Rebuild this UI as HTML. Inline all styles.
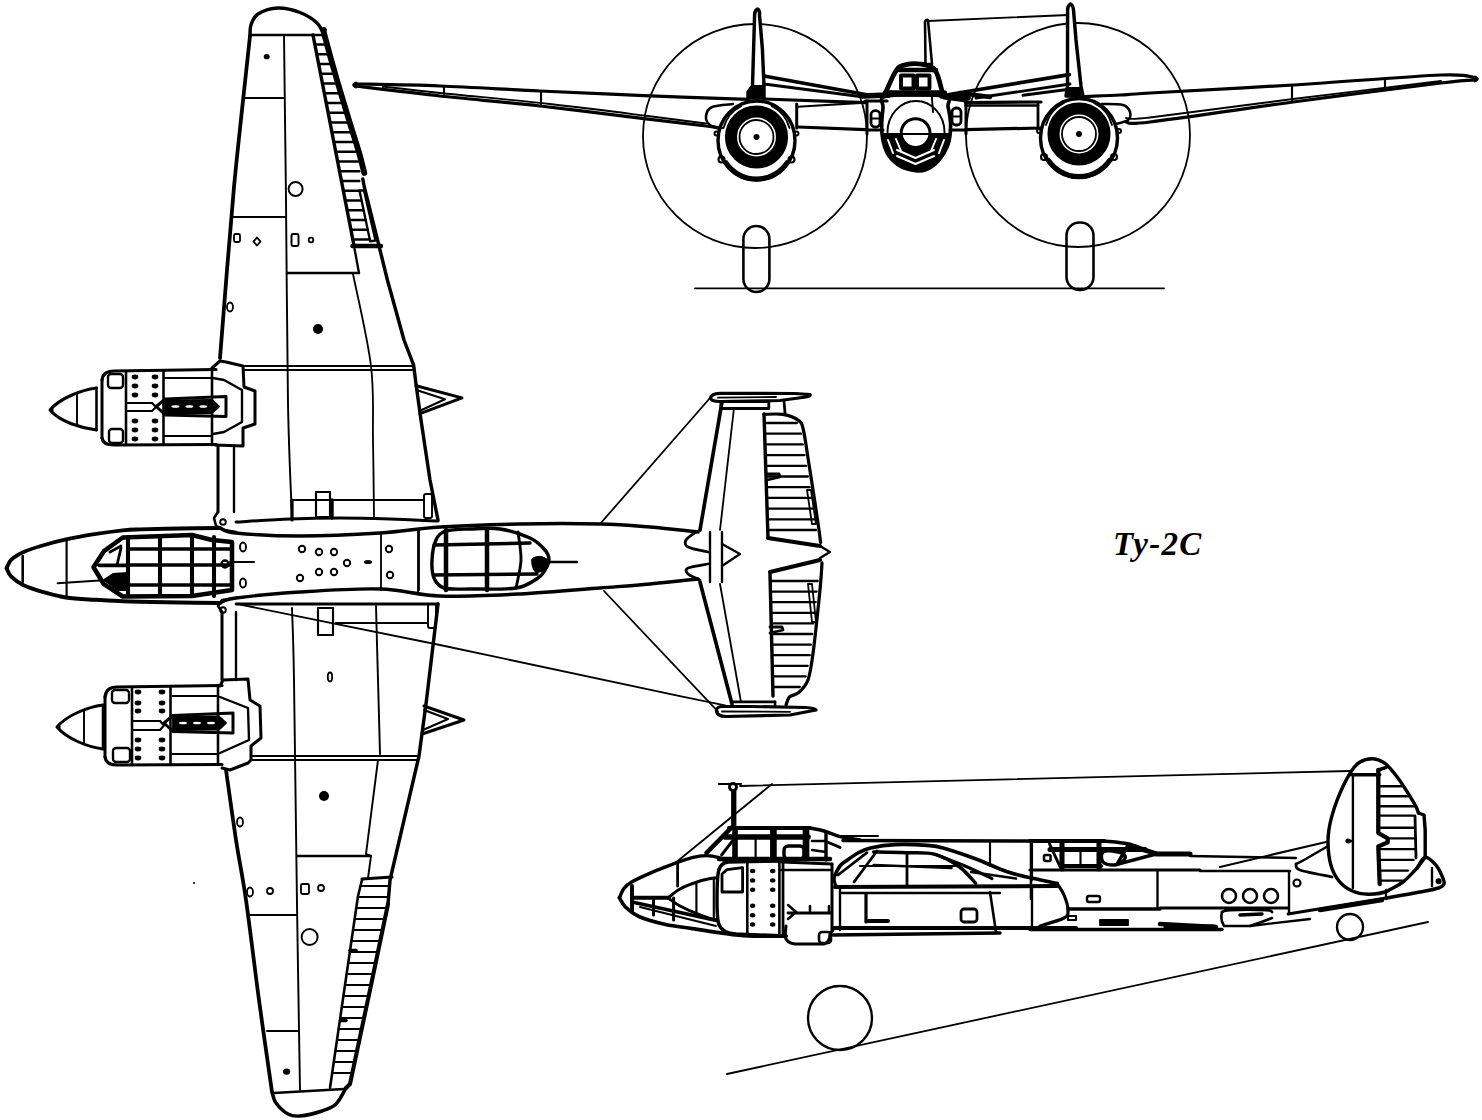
<!DOCTYPE html>
<html><head><meta charset="utf-8"><style>
html,body{margin:0;padding:0;background:#fff;}
body{width:1482px;height:1120px;overflow:hidden;position:relative;}
svg{position:absolute;left:0;top:0;}
.t{position:absolute;font-family:"Liberation Serif",serif;font-weight:bold;font-style:italic;color:#000;white-space:nowrap;}
</style></head><body>
<svg width="1482" height="1120" viewBox="0 0 1482 1120" stroke="#000" stroke-linejoin="round" fill="none">
<path d="M250,36 C250.2,34.2 249.7,28.7 251,25 C252.3,21.3 253.5,16.8 258,14 C262.5,11.2 271,8.2 278,8 C285,7.8 293.5,10 300,12.5 C306.5,15 313,19.2 317,23 C321,26.8 322.8,33 324,35" stroke-width="3.4400000000000004" fill="none" stroke-linecap="round"/>
<path d="M250,35 L324,35" stroke-width="2.5760000000000005" fill="none" stroke-linecap="round"/>
<path d="M250,36 C248.7,48.3 244.7,84.8 242,110 C239.3,135.2 236.5,160.3 234,187 C231.5,213.7 229.3,241.5 227,270 C224.7,298.5 221.2,343.3 220,358" stroke-width="3.7640000000000002" fill="none" stroke-linecap="round"/>
<path d="M324,30 C324.1,31 322.7,28.2 324.8,36.2 C326.9,44.2 332.1,63.3 336.4,78 C340.6,92.7 346.4,111.6 350.3,124.4 C354.2,137.2 357.3,146.5 359.6,154.6 C361.9,162.7 363.5,169.9 364.3,173" stroke-width="5.816000000000001" fill="none" stroke-linecap="round"/>
<path d="M362.8,179 L364.3,187 L378.2,242.7 L387.4,280 L404,340 L413.6,365 L416,384 L421,420 L430,480 L438,520" stroke-width="3.4400000000000004" fill="none" stroke-linecap="round"/>
<path d="M313,35 L353.7,244" stroke-width="3.4400000000000004" fill="none" stroke-linecap="round"/>
<path d="M352.5,246 L381,246" stroke-width="4.5200000000000005" fill="none" stroke-linecap="round"/>
<path d="M359.5,190.5 L364,190.5 L375.5,240.5 L370.2,241.4 Z" stroke-width="2.3600000000000003" fill="none" stroke-linecap="round"/>
<path d="M314.9,44.5 L324.6,44.5" stroke-width="2.3600000000000003" fill="none" stroke-linecap="round"/>
<path d="M316.7,54.2 L327.3,54.2" stroke-width="2.3600000000000003" fill="none" stroke-linecap="round"/>
<path d="M318.6,64 L330,64" stroke-width="2.3600000000000003" fill="none" stroke-linecap="round"/>
<path d="M320.5,73.8 L332.7,73.8" stroke-width="2.3600000000000003" fill="none" stroke-linecap="round"/>
<path d="M322.4,83.5 L335.5,83.5" stroke-width="2.3600000000000003" fill="none" stroke-linecap="round"/>
<path d="M324.3,93.2 L338.5,93.2" stroke-width="2.3600000000000003" fill="none" stroke-linecap="round"/>
<path d="M326.2,103 L341.4,103" stroke-width="2.3600000000000003" fill="none" stroke-linecap="round"/>
<path d="M328.1,112.8 L344.3,112.8" stroke-width="2.3600000000000003" fill="none" stroke-linecap="round"/>
<path d="M330,122.5 L347.2,122.5" stroke-width="2.3600000000000003" fill="none" stroke-linecap="round"/>
<path d="M331.9,132.2 L350.2,132.2" stroke-width="2.3600000000000003" fill="none" stroke-linecap="round"/>
<path d="M333.8,142 L353.2,142" stroke-width="2.3600000000000003" fill="none" stroke-linecap="round"/>
<path d="M335.7,151.8 L356.2,151.8" stroke-width="2.3600000000000003" fill="none" stroke-linecap="round"/>
<path d="M337.6,161.5 L358,161.5" stroke-width="2.3600000000000003" fill="none" stroke-linecap="round"/>
<path d="M339.5,171.2 L359.3,171.2" stroke-width="2.3600000000000003" fill="none" stroke-linecap="round"/>
<path d="M341.4,181 L359.3,181" stroke-width="2.3600000000000003" fill="none" stroke-linecap="round"/>
<path d="M343.3,190.8 L359.1,190.8" stroke-width="2.3600000000000003" fill="none" stroke-linecap="round"/>
<path d="M345.2,200.5 L361.2,200.5" stroke-width="2.3600000000000003" fill="none" stroke-linecap="round"/>
<path d="M347.1,210.2 L363.4,210.2" stroke-width="2.3600000000000003" fill="none" stroke-linecap="round"/>
<path d="M349,220 L365.6,220" stroke-width="2.3600000000000003" fill="none" stroke-linecap="round"/>
<path d="M350.9,229.8 L367.8,229.8" stroke-width="2.3600000000000003" fill="none" stroke-linecap="round"/>
<path d="M352.8,239.5 L370,239.5" stroke-width="2.3600000000000003" fill="none" stroke-linecap="round"/>
<path d="M354,246 L359,273" stroke-width="2.3600000000000003" fill="none" stroke-linecap="round"/>
<path d="M287,273 L359,273" stroke-width="2.3600000000000003" fill="none" stroke-linecap="round"/>
<path d="M353,274 C356,289.3 367.7,338.3 371,366 C374.3,393.7 372.5,414.8 373,440 C373.5,465.2 373.8,504.2 374,517" stroke-width="1.82" fill="none" stroke-linecap="round"/>
<path d="M284,35 C284.3,62.5 285.3,138.5 286,200 C286.7,261.5 287,351 288,404 C289,457 291.3,499 292,518" stroke-width="1.9280000000000002" fill="none" stroke-linecap="round"/>
<path d="M244,98 L284,98" stroke-width="1.9280000000000002" fill="none" stroke-linecap="round"/>
<path d="M231,217 L285,217" stroke-width="2.144" fill="none" stroke-linecap="round"/>
<path d="M244,366 L412,366" stroke-width="2.144" fill="none" stroke-linecap="round"/>
<path d="M244,370 L412,370" stroke-width="2.144" fill="none" stroke-linecap="round"/>
<path d="M416,385.7 L462,397.9 L420,413.6" stroke-width="3.0080000000000005" fill="none" stroke-linecap="round"/>
<path d="M416.4,390 L445,399.3 L420,410.7" stroke-width="2.144" fill="none" stroke-linecap="round"/>
<circle cx="295.6" cy="189" r="7" stroke-width="1.9280000000000002" fill="none"/>
<ellipse cx="266.7" cy="56.7" rx="3" ry="2.6" stroke="none" fill="#000"/>
<rect x="234" y="234" width="6" height="8" rx="1.5" stroke-width="1.82" fill="none"/>
<path d="M257,237.5 L260.5,241.6 L257,245.5 L253.5,241.6 Z" stroke-width="1.82" fill="none" stroke-linecap="round"/>
<rect x="291.5" y="234" width="7" height="12" rx="1.5" stroke-width="1.9280000000000002" fill="none"/>
<circle cx="311" cy="240" r="2.3" stroke-width="1.8" fill="none"/>
<ellipse cx="230" cy="307" rx="3" ry="4.5" stroke-width="1.82" fill="none"/>
<ellipse cx="318" cy="329" rx="5" ry="5" stroke="none" fill="#000"/>
<path d="M218,446 L218,512" stroke-width="3.0080000000000005" fill="none" stroke-linecap="round"/>
<path d="M234,446 L234,512" stroke-width="2.3600000000000003" fill="none" stroke-linecap="round"/>
<path d="M292,500 L424,500" stroke-width="2.144" fill="none" stroke-linecap="round"/>
<rect x="316" y="492" width="14" height="25" rx="0" stroke-width="2.144" fill="none"/>
<path d="M332,500 L332,518" stroke-width="3.4400000000000004" fill="none" stroke-linecap="round"/>
<path d="M292,500 L292,520" stroke-width="3.224" fill="none" stroke-linecap="round"/>
<rect x="424" y="494" width="8" height="24" rx="2" stroke-width="1.9280000000000002" fill="none"/>
<path d="M236,522 C245,521.5 272.7,519.7 290,519 C307.3,518.3 323.3,518 340,518 C356.7,518 373.7,518.5 390,519 C406.3,519.5 430,520.7 438,521" stroke-width="3.0080000000000005" fill="none" stroke-linecap="round"/>
<path d="M218,512 L214,518 L216,526 L224,530 L236,532" stroke-width="2.5760000000000005" fill="none" stroke-linecap="round"/>
<circle cx="223" cy="522" r="2.8" stroke-width="1.9280000000000002" fill="none"/>
<path d="M252,756 L418,756" stroke-width="2.144" fill="none" stroke-linecap="round"/>
<path d="M252,760 L418,760" stroke-width="2.144" fill="none" stroke-linecap="round"/>
<path d="M226,770 C227.7,781.7 232.7,818.3 236,840 C239.3,861.7 242.2,873.3 246,900 C249.8,926.7 254.7,968 259,1000 C263.3,1032 269.8,1076.7 272,1092" stroke-width="3.7640000000000002" fill="none" stroke-linecap="round"/>
<path d="M272,1092 C272.7,1093.8 273.3,1099.3 276,1103 C278.7,1106.7 284,1111.8 288,1114 C292,1116.2 294.3,1116.5 300,1116 C305.7,1115.5 316,1113 322,1111 C328,1109 332,1107.8 336,1104 C340,1100.2 344.3,1090.7 346,1088" stroke-width="3.4400000000000004" fill="none" stroke-linecap="round"/>
<path d="M274,1093 L344,1089" stroke-width="2.5760000000000005" fill="none" stroke-linecap="round"/>
<path d="M292,608 C292.3,620 293.2,630.7 294,680 C294.8,729.3 296,835.7 297,904 C298,972.3 299.5,1059 300,1090" stroke-width="1.9280000000000002" fill="none" stroke-linecap="round"/>
<path d="M438,604 L426,704 L419,756 L390,880 L388,904" stroke-width="3.4400000000000004" fill="none" stroke-linecap="round"/>
<path d="M388,904 L370,990 L350,1084 L346,1088" stroke-width="4.088" fill="none" stroke-linecap="round"/>
<path d="M378,760 L366,854 L371,856 L368,878" stroke-width="1.9280000000000002" fill="none" stroke-linecap="round"/>
<path d="M297,856 L371,856" stroke-width="2.3600000000000003" fill="none" stroke-linecap="round"/>
<path d="M362,879 L392,877" stroke-width="3.0080000000000005" fill="none" stroke-linecap="round"/>
<path d="M362,880 L358,896 L330,1088" stroke-width="2.5760000000000005" fill="none" stroke-linecap="round"/>
<path d="M360.5,886 L387.5,886" stroke-width="2.036" fill="none" stroke-linecap="round"/>
<path d="M357.9,897 L386.6,897" stroke-width="2.036" fill="none" stroke-linecap="round"/>
<path d="M356.2,908 L385.2,908" stroke-width="2.036" fill="none" stroke-linecap="round"/>
<path d="M354.6,919 L382.9,919" stroke-width="2.036" fill="none" stroke-linecap="round"/>
<path d="M353,930 L380.6,930" stroke-width="2.036" fill="none" stroke-linecap="round"/>
<path d="M351.4,941 L378.3,941" stroke-width="2.036" fill="none" stroke-linecap="round"/>
<path d="M349.8,952 L376,952" stroke-width="2.036" fill="none" stroke-linecap="round"/>
<path d="M348.2,963 L373.7,963" stroke-width="2.036" fill="none" stroke-linecap="round"/>
<path d="M346.6,974 L371.3,974" stroke-width="2.036" fill="none" stroke-linecap="round"/>
<path d="M345,985 L369,985" stroke-width="2.036" fill="none" stroke-linecap="round"/>
<path d="M343.4,996 L366.7,996" stroke-width="2.036" fill="none" stroke-linecap="round"/>
<path d="M341.8,1007 L364.4,1007" stroke-width="2.036" fill="none" stroke-linecap="round"/>
<path d="M340.2,1018 L362,1018" stroke-width="2.036" fill="none" stroke-linecap="round"/>
<path d="M338.6,1029 L359.7,1029" stroke-width="2.036" fill="none" stroke-linecap="round"/>
<path d="M337,1040 L357.4,1040" stroke-width="2.036" fill="none" stroke-linecap="round"/>
<path d="M335.4,1051 L355,1051" stroke-width="2.036" fill="none" stroke-linecap="round"/>
<path d="M333.8,1062 L352.7,1062" stroke-width="2.036" fill="none" stroke-linecap="round"/>
<path d="M332.2,1073 L350.3,1073" stroke-width="2.036" fill="none" stroke-linecap="round"/>
<path d="M249,915 L297,915" stroke-width="1.9280000000000002" fill="none" stroke-linecap="round"/>
<path d="M267,1031 L298,1031" stroke-width="1.9280000000000002" fill="none" stroke-linecap="round"/>
<circle cx="309.6" cy="937" r="8" stroke-width="1.9280000000000002" fill="none"/>
<ellipse cx="286.6" cy="1071.6" rx="3.6" ry="3.2" stroke="none" fill="#000"/>
<ellipse cx="324" cy="796" rx="5" ry="5" stroke="none" fill="#000"/>
<ellipse cx="240" cy="822" rx="3" ry="4.5" stroke-width="1.82" fill="none"/>
<ellipse cx="250" cy="892" rx="3" ry="4.5" stroke-width="1.82" fill="none"/>
<circle cx="270" cy="891" r="3" stroke-width="1.8" fill="none"/>
<rect x="301" y="884" width="8" height="10" rx="1.5" stroke-width="1.82" fill="none"/>
<circle cx="321" cy="888" r="3" stroke-width="1.8" fill="none"/>
<path d="M424,706 L464,720 L422,734" stroke-width="3.0080000000000005" fill="none" stroke-linecap="round"/>
<path d="M424,710 L448,719 L423,730" stroke-width="2.144" fill="none" stroke-linecap="round"/>
<ellipse cx="194" cy="883" rx="1" ry="1" stroke="none" fill="#000"/>
<path d="M222,612 L222,680" stroke-width="3.0080000000000005" fill="none" stroke-linecap="round"/>
<path d="M236,612 L236,680" stroke-width="2.3600000000000003" fill="none" stroke-linecap="round"/>
<path d="M336,623 L428,623" stroke-width="1.9280000000000002" fill="none" stroke-linecap="round"/>
<rect x="318" y="608" width="15" height="27" rx="0" stroke-width="2.144" fill="none"/>
<path d="M376,606 C376.3,618.3 377.3,655.3 378,680 C378.7,704.7 379.7,741.7 380,754" stroke-width="1.9280000000000002" fill="none" stroke-linecap="round"/>
<rect x="428" y="604" width="8" height="24" rx="2" stroke-width="1.9280000000000002" fill="none"/>
<ellipse cx="330" cy="677" rx="2.2" ry="4.5" stroke-width="1.82" fill="none"/>
<path d="M236,604 C246.7,604 276,604 300,604 C324,604 357,604 380,604 C403,604 428.3,604 438,604" stroke-width="2.7920000000000003" fill="none" stroke-linecap="round"/>
<path d="M222,612 L218,606 L222,600 L236,598" stroke-width="2.5760000000000005" fill="none" stroke-linecap="round"/>
<circle cx="223" cy="610" r="2.8" stroke-width="1.9280000000000002" fill="none"/>
<path d="M6.6,568.2 C7.4,566.8 8.5,562.4 11.3,559.7 C14.1,557 18.4,554.4 23.6,552 C28.8,549.6 35.4,547.6 42.5,545.5 C49.6,543.4 57.3,541.3 66,539.4 C74.7,537.5 85,535.7 94.5,534.2 C104,532.7 115.2,531.2 122.8,530.4 C130.4,529.6 130.5,529.7 140,529.4 C149.5,529.1 166.7,528.7 180,528.5 C193.3,528.3 213.3,528.1 220,528" stroke-width="3.8720000000000003" fill="none" stroke-linecap="round"/>
<path d="M6.6,568.2 C7.4,569.6 8.5,573.9 11.3,576.7 C14.1,579.5 18.4,582.7 23.6,585.2 C28.8,587.7 35.4,589.8 42.5,591.8 C49.6,593.8 57.3,596.2 66,597.5 C74.7,598.8 85,599.2 94.5,599.8 C104,600.4 115.2,600.9 122.8,601.2 C130.4,601.5 130.5,601.5 140,601.7 C149.5,601.9 166.7,602.3 180,602.5 C193.3,602.7 213.3,602.9 220,603" stroke-width="3.8720000000000003" fill="none" stroke-linecap="round"/>
<path d="M220,528 C222.7,528.8 222.7,531.7 236,533 C249.3,534.3 276,536 300,536 C324,536 356.7,534.5 380,533 C403.3,531.5 416.7,528.5 440,527 C463.3,525.5 493.3,524.5 520,524 C546.7,523.5 578.3,523.5 600,524 C621.7,524.5 633.7,525.7 650,527 C666.3,528.3 690,531.2 698,532" stroke-width="3.4400000000000004" fill="none" stroke-linecap="round"/>
<path d="M220,603 C222.7,602.2 222.7,599.8 236,598 C249.3,596.2 276,593.5 300,592 C324,590.5 356.7,588.3 380,589 C403.3,589.7 416.7,595.2 440,596 C463.3,596.8 493.3,595.3 520,594 C546.7,592.7 578.3,589.7 600,588 C621.7,586.3 633.7,585.5 650,584 C666.3,582.5 690,579.8 698,579" stroke-width="3.4400000000000004" fill="none" stroke-linecap="round"/>
<path d="M22.7,556 L22.7,582" stroke-width="2.5760000000000005" fill="none" stroke-linecap="round"/>
<path d="M66.6,541 L66.6,596" stroke-width="2.144" fill="none" stroke-linecap="round"/>
<path d="M57.6,583.3 L99.2,580.5" stroke-width="1.9280000000000002" fill="none" stroke-linecap="round"/>
<path d="M93.5,567.2 L103.9,551.2 L122.8,537.5 L192,535 L212,540 L232,542 L232,590 L212,593 L192,596 L122.8,596.5 L103.9,584.2 L93.5,567.2 Z" stroke-width="4.5200000000000005" fill="none" stroke-linecap="round"/>
<path d="M128,537 L128,596" stroke-width="4.088" fill="none" stroke-linecap="round"/>
<path d="M160,537 L160,596" stroke-width="4.088" fill="none" stroke-linecap="round"/>
<path d="M192,537 L192,596" stroke-width="4.088" fill="none" stroke-linecap="round"/>
<path d="M214,537 L214,596" stroke-width="4.088" fill="none" stroke-linecap="round"/>
<path d="M128,549 L232,549" stroke-width="3.6560000000000006" fill="none" stroke-linecap="round"/>
<path d="M128,565 L232,565" stroke-width="3.6560000000000006" fill="none" stroke-linecap="round"/>
<path d="M128,585 L232,585" stroke-width="3.6560000000000006" fill="none" stroke-linecap="round"/>
<path d="M99,565.3 L128,565.3" stroke-width="3.6560000000000006" fill="none" stroke-linecap="round"/>
<path d="M110,552 L121,546" stroke-width="2.7920000000000003" fill="none" stroke-linecap="round"/>
<path d="M117,565 L121,548" stroke-width="2.7920000000000003" fill="none" stroke-linecap="round"/>
<path d="M104,580 L113,574 L127,573 L127,590 L118,590 Z" stroke-width="1.8" fill="#000" stroke-linecap="round"/>
<ellipse cx="243" cy="547" rx="3" ry="4.5" stroke-width="1.9280000000000002" fill="none"/>
<ellipse cx="243" cy="583" rx="3" ry="4.5" stroke-width="1.9280000000000002" fill="none"/>
<circle cx="225" cy="564" r="3.5" stroke-width="2.3600000000000003" fill="none"/>
<path d="M230,562 L254,562" stroke-width="1.9280000000000002" fill="none" stroke-linecap="round"/>
<circle cx="302" cy="549" r="3.2" stroke-width="1.9280000000000002" fill="none"/>
<circle cx="319" cy="552" r="3.2" stroke-width="1.9280000000000002" fill="none"/>
<circle cx="334" cy="552" r="3.2" stroke-width="1.9280000000000002" fill="none"/>
<circle cx="347" cy="563" r="3.2" stroke-width="1.9280000000000002" fill="none"/>
<circle cx="300" cy="578" r="3.2" stroke-width="1.9280000000000002" fill="none"/>
<circle cx="319" cy="572" r="3.2" stroke-width="1.9280000000000002" fill="none"/>
<circle cx="334" cy="572" r="3.2" stroke-width="1.9280000000000002" fill="none"/>
<circle cx="389" cy="549" r="3.2" stroke-width="1.9280000000000002" fill="none"/>
<circle cx="390" cy="575" r="3.2" stroke-width="1.9280000000000002" fill="none"/>
<ellipse cx="368" cy="562" rx="4" ry="2" stroke="none" fill="#000"/>
<path d="M381,533 L381,590" stroke-width="1.82" fill="none" stroke-linecap="round"/>
<path d="M418,530 L418,592" stroke-width="1.82" fill="none" stroke-linecap="round"/>
<path d="M432,560 C432.3,553.7 433.7,544.8 436,540 C438.3,535.2 440.3,532.8 446,531 C451.7,529.2 461,529.3 470,529 C479,528.7 490,527.5 500,529 C510,530.5 522.5,534.5 530,538 C537.5,541.5 541.8,546.3 545,550 C548.2,553.7 549,556.7 549,560 C549,563.3 546.8,567 545,570 C543.2,573 542.8,575 538,578 C533.2,581 527.3,586.2 516,588 C504.7,589.8 482,589 470,589 C458,589 450,589.8 444,588 C438,586.2 436,582.7 434,578 C432,573.3 431.7,566.3 432,560 Z" stroke-width="3.4400000000000004" fill="none" stroke-linecap="round"/>
<path d="M446,530 L446,590" stroke-width="4.5200000000000005" fill="none" stroke-linecap="round"/>
<path d="M487,529 L487,590" stroke-width="4.5200000000000005" fill="none" stroke-linecap="round"/>
<path d="M518,532 C518.5,536.7 521.3,550.7 521,560 C520.7,569.3 516.8,583.3 516,588" stroke-width="2.9000000000000004" fill="none" stroke-linecap="round"/>
<path d="M434,545 L530,543" stroke-width="3.4400000000000004" fill="none" stroke-linecap="round"/>
<path d="M434,575 L537,574" stroke-width="3.4400000000000004" fill="none" stroke-linecap="round"/>
<path d="M532,560 Q534,556 542,557 L548,560 L548,566 Q544,572 536,572 Q532,568 532,560 Z" stroke-width="1.8" fill="#000" stroke-linecap="round"/>
<path d="M548,562 L577,562" stroke-width="2.3600000000000003" fill="none" stroke-linecap="round"/>
<path d="M419,529 L419,590" stroke-width="1.82" fill="none" stroke-linecap="round"/>
<path d="M600,524 L710,398" stroke-width="1.8" fill="none" stroke-linecap="round"/>
<path d="M604,591 L717.8,711.4" stroke-width="1.8" fill="none" stroke-linecap="round"/>
<path d="M240,604.5 L440,645 L680,696.2 L725,705.4" stroke-width="1.8" fill="none" stroke-linecap="round"/>
<path d="M710.5,398 Q711,393.5 720,393.3 L795,393.5 L810,394.5 Q811,396 806,397 L780,400.5 L720,401.5 Q711,401.5 710.5,398 Z" stroke-width="3.224" fill="none" stroke-linecap="round"/>
<path d="M718,397.6 L776,397" stroke-width="1.8" fill="none" stroke-linecap="round"/>
<rect x="721" y="401.5" width="47.8" height="7" rx="0" stroke-width="2.7920000000000003" fill="none"/>
<path d="M722,402 L700,530" stroke-width="3.6560000000000006" fill="none" stroke-linecap="round"/>
<path d="M734,408 L720,530" stroke-width="1.82" fill="none" stroke-linecap="round"/>
<path d="M764,414 L768,538" stroke-width="3.4400000000000004" fill="none" stroke-linecap="round"/>
<path d="M764,414.4 C767.2,414.4 777.2,413.4 783,414.4 C788.8,415.4 795.4,418 798.8,420.6 C802.1,423.2 801.9,423.8 803.4,430 C804.9,436.2 806.2,446.5 808,458 C809.8,469.5 812.6,486.8 814.4,498.8 C816.2,510.8 818,522.7 819,530 C820,537.3 820.3,540.4 820.6,542.5" stroke-width="3.224" fill="none" stroke-linecap="round"/>
<path d="M764.3,423 L796.9,423" stroke-width="2.2520000000000002" fill="none" stroke-linecap="round"/>
<path d="M764.6,433.7 L801,433.7" stroke-width="2.2520000000000002" fill="none" stroke-linecap="round"/>
<path d="M765,444.4 L802.8,444.4" stroke-width="2.2520000000000002" fill="none" stroke-linecap="round"/>
<path d="M765.3,455.1 L804.5,455.1" stroke-width="2.2520000000000002" fill="none" stroke-linecap="round"/>
<path d="M765.7,465.8 L806.2,465.8" stroke-width="2.2520000000000002" fill="none" stroke-linecap="round"/>
<path d="M766,476.5 L807.9,476.5" stroke-width="2.2520000000000002" fill="none" stroke-linecap="round"/>
<path d="M766.4,487.2 L809.6,487.2" stroke-width="2.2520000000000002" fill="none" stroke-linecap="round"/>
<path d="M766.7,497.9 L811.3,497.9" stroke-width="2.2520000000000002" fill="none" stroke-linecap="round"/>
<path d="M767.1,508.6 L812.8,508.6" stroke-width="2.2520000000000002" fill="none" stroke-linecap="round"/>
<path d="M767.4,519.3 L814.4,519.3" stroke-width="2.2520000000000002" fill="none" stroke-linecap="round"/>
<path d="M767.7,530 L816,530" stroke-width="2.2520000000000002" fill="none" stroke-linecap="round"/>
<path d="M767,474 L779,474 L780,477 L767,480" stroke-width="2.7920000000000003" fill="none" stroke-linecap="round"/>
<path d="M807,490 L811,490 L816,524 L812,524 Z" stroke-width="1.82" fill="none" stroke-linecap="round"/>
<path d="M768,538 L820,546" stroke-width="4.088" fill="none" stroke-linecap="round"/>
<path d="M820,546 L830,552 L820,558" stroke-width="2.5760000000000005" fill="none" stroke-linecap="round"/>
<path d="M820,560 L770,572" stroke-width="4.088" fill="none" stroke-linecap="round"/>
<path d="M785,413 L784,401" stroke-width="2.7920000000000003" fill="none" stroke-linecap="round"/>
<path d="M716.5,711 Q717,716.5 726,716.5 L790,715 L816,710 Q814,708 806,707.5 L750,706.5 L722,706.5 Q716,707 716.5,711 Z" stroke-width="3.224" fill="none" stroke-linecap="round"/>
<path d="M722,711.5 L790,711.8" stroke-width="1.8" fill="none" stroke-linecap="round"/>
<path d="M700,582 L732,704" stroke-width="3.6560000000000006" fill="none" stroke-linecap="round"/>
<path d="M720,584 L741,702" stroke-width="1.82" fill="none" stroke-linecap="round"/>
<path d="M770,574 L773,696" stroke-width="3.4400000000000004" fill="none" stroke-linecap="round"/>
<path d="M822,562.8 C821.8,566.2 821.4,574.5 820.6,583 C819.9,591.5 818.8,602 817.5,614 C816.2,626 814.4,644 812.8,655 C811.2,666 810.3,673.8 808,680 C805.7,686.2 801.9,689.7 798.8,692.5 C795.6,695.3 791.5,694.9 789.4,697 C787.3,699.1 786.6,703.7 786,705" stroke-width="3.224" fill="none" stroke-linecap="round"/>
<path d="M770.2,581 L817.7,581" stroke-width="2.2520000000000002" fill="none" stroke-linecap="round"/>
<path d="M770.4,591.6 L816.7,591.6" stroke-width="2.2520000000000002" fill="none" stroke-linecap="round"/>
<path d="M770.7,602.2 L815.7,602.2" stroke-width="2.2520000000000002" fill="none" stroke-linecap="round"/>
<path d="M771,612.8 L814.6,612.8" stroke-width="2.2520000000000002" fill="none" stroke-linecap="round"/>
<path d="M771.2,623.4 L813.4,623.4" stroke-width="2.2520000000000002" fill="none" stroke-linecap="round"/>
<path d="M771.5,634 L812.2,634" stroke-width="2.2520000000000002" fill="none" stroke-linecap="round"/>
<path d="M771.7,644.6 L811,644.6" stroke-width="2.2520000000000002" fill="none" stroke-linecap="round"/>
<path d="M772,655.2 L809.8,655.2" stroke-width="2.2520000000000002" fill="none" stroke-linecap="round"/>
<path d="M772.3,665.8 L807.7,665.8" stroke-width="2.2520000000000002" fill="none" stroke-linecap="round"/>
<path d="M772.5,676.4 L805.7,676.4" stroke-width="2.2520000000000002" fill="none" stroke-linecap="round"/>
<path d="M772.8,687 L799.8,687" stroke-width="2.2520000000000002" fill="none" stroke-linecap="round"/>
<path d="M808,584 L812,584 L816,622 L812,622 Z" stroke-width="1.82" fill="none" stroke-linecap="round"/>
<path d="M733,701.8 L775,701.8" stroke-width="2.7920000000000003" fill="none" stroke-linecap="round"/>
<path d="M775,701.8 L775,706" stroke-width="2.5760000000000005" fill="none" stroke-linecap="round"/>
<path d="M696,532 C694.3,533.3 687.3,537.5 686,540 C684.7,542.5 684.3,545 688,547 C691.7,549 704.7,551.2 708,552" stroke-width="2.7920000000000003" fill="none" stroke-linecap="round"/>
<path d="M700,580 C698,579 690,576 688,574 C686,572 684.7,569.7 688,568 C691.3,566.3 704.7,564.7 708,564" stroke-width="2.7920000000000003" fill="none" stroke-linecap="round"/>
<path d="M710,532 L710,582" stroke-width="2.3600000000000003" fill="none" stroke-linecap="round"/>
<path d="M722,532 L722,582" stroke-width="2.3600000000000003" fill="none" stroke-linecap="round"/>
<path d="M722,544 L740,554 L722,566" stroke-width="2.3600000000000003" fill="none" stroke-linecap="round"/>
<path d="M96.5,388 C81.5,390 60,398 50,410 C60,422 81.5,428 96.5,430" stroke-width="3.0080000000000005" fill="none" stroke-linecap="round"/>
<ellipse cx="51.5" cy="410" rx="2.2" ry="2" stroke="none" fill="#000"/>
<path d="M77,393.5 L77,425" stroke-width="1.9280000000000002" fill="none" stroke-linecap="round"/>
<path d="M96.5,388 L96.5,430" stroke-width="2.5760000000000005" fill="none" stroke-linecap="round"/>
<path d="M102,380 Q103,371 114,371 L216,369.5" stroke-width="3.224" fill="none" stroke-linecap="round"/>
<path d="M102,438 Q103,445 114,445 L216,444.5" stroke-width="3.224" fill="none" stroke-linecap="round"/>
<path d="M102,380 L102,438" stroke-width="3.0080000000000005" fill="none" stroke-linecap="round"/>
<path d="M126,372 L126,445" stroke-width="2.5760000000000005" fill="none" stroke-linecap="round"/>
<rect x="108" y="374" width="15" height="14" rx="3" stroke-width="2.3600000000000003" fill="none"/>
<rect x="109" y="429" width="14" height="14" rx="3" stroke-width="2.3600000000000003" fill="none"/>
<path d="M163.5,371 L163.5,445" stroke-width="2.5760000000000005" fill="none" stroke-linecap="round"/>
<ellipse cx="135" cy="377" rx="3.3" ry="2.4" stroke="none" fill="#000"/>
<ellipse cx="135" cy="386" rx="3.3" ry="2.4" stroke="none" fill="#000"/>
<ellipse cx="135" cy="395" rx="3.3" ry="2.4" stroke="none" fill="#000"/>
<ellipse cx="135" cy="421" rx="3.3" ry="2.4" stroke="none" fill="#000"/>
<ellipse cx="135" cy="430" rx="3.3" ry="2.4" stroke="none" fill="#000"/>
<ellipse cx="135" cy="439" rx="3.3" ry="2.4" stroke="none" fill="#000"/>
<ellipse cx="155" cy="377" rx="3.3" ry="2.4" stroke="none" fill="#000"/>
<ellipse cx="155" cy="386" rx="3.3" ry="2.4" stroke="none" fill="#000"/>
<ellipse cx="155" cy="395" rx="3.3" ry="2.4" stroke="none" fill="#000"/>
<ellipse cx="155" cy="421" rx="3.3" ry="2.4" stroke="none" fill="#000"/>
<ellipse cx="155" cy="430" rx="3.3" ry="2.4" stroke="none" fill="#000"/>
<ellipse cx="155" cy="439" rx="3.3" ry="2.4" stroke="none" fill="#000"/>
<path d="M126,403 L152,403" stroke-width="2.144" fill="none" stroke-linecap="round"/>
<path d="M126,411 L152,411" stroke-width="2.144" fill="none" stroke-linecap="round"/>
<path d="M152,403 L156,407 L152,411" stroke-width="2.144" fill="none" stroke-linecap="round"/>
<path d="M156.3,406.5 L165.3,399.0 L226,396.5 L226,416.5 L165.3,415.0 Z" stroke-width="3.0080000000000005" fill="none" stroke-linecap="round"/>
<path d="M165.3,400.5 L212,400.0 L219,406.5 L212,413.0 L165.3,413.5 Z" stroke-width="1.8" fill="#000" stroke-linecap="round"/>
<ellipse cx="175.3" cy="406.5" rx="4" ry="1.3" stroke="none" stroke-width="1.8" fill="#fff"/>
<ellipse cx="189.3" cy="406.5" rx="4" ry="1.3" stroke="none" stroke-width="1.8" fill="#fff"/>
<ellipse cx="203.3" cy="406.5" rx="4" ry="1.3" stroke="none" stroke-width="1.8" fill="#fff"/>
<path d="M164,378 L212,378" stroke-width="1.9280000000000002" fill="none" stroke-linecap="round"/>
<path d="M164,436 L212,436" stroke-width="1.9280000000000002" fill="none" stroke-linecap="round"/>
<path d="M212,371 L212,445" stroke-width="2.5760000000000005" fill="none" stroke-linecap="round"/>
<path d="M212,368 L220,361 L226,362 L243,366 L244,387 L255,391 L255,424 L243,428 L243,446 L215,445" stroke-width="3.0080000000000005" fill="none" stroke-linecap="round"/>
<path d="M213,378 L224,380 L242,390 L242,422 L224,432 L213,434" stroke-width="2.3600000000000003" fill="none" stroke-linecap="round"/>
<path d="M103,705 C88,707 67,715 57,727 C67,739 88,747 103,749" stroke-width="3.0080000000000005" fill="none" stroke-linecap="round"/>
<ellipse cx="58.5" cy="727" rx="2.2" ry="2" stroke="none" fill="#000"/>
<path d="M84,710.5 L84,743.5" stroke-width="1.9280000000000002" fill="none" stroke-linecap="round"/>
<path d="M103,705 L103,749" stroke-width="2.5760000000000005" fill="none" stroke-linecap="round"/>
<path d="M105,697 Q106,687 117,687 L222,685.5" stroke-width="3.224" fill="none" stroke-linecap="round"/>
<path d="M105,757 Q106,765 117,765 L222,764.5" stroke-width="3.224" fill="none" stroke-linecap="round"/>
<path d="M105,697 L105,757" stroke-width="3.0080000000000005" fill="none" stroke-linecap="round"/>
<path d="M132,688 L132,765" stroke-width="2.5760000000000005" fill="none" stroke-linecap="round"/>
<rect x="112" y="690" width="17" height="13" rx="3" stroke-width="2.3600000000000003" fill="none"/>
<rect x="113" y="748" width="17" height="14" rx="3" stroke-width="2.3600000000000003" fill="none"/>
<path d="M170.5,687 L170.5,765" stroke-width="2.5760000000000005" fill="none" stroke-linecap="round"/>
<ellipse cx="138" cy="692" rx="3.3" ry="2.4" stroke="none" fill="#000"/>
<ellipse cx="138" cy="703" rx="3.3" ry="2.4" stroke="none" fill="#000"/>
<ellipse cx="138" cy="711" rx="3.3" ry="2.4" stroke="none" fill="#000"/>
<ellipse cx="138" cy="740" rx="3.3" ry="2.4" stroke="none" fill="#000"/>
<ellipse cx="138" cy="749" rx="3.3" ry="2.4" stroke="none" fill="#000"/>
<ellipse cx="138" cy="758" rx="3.3" ry="2.4" stroke="none" fill="#000"/>
<ellipse cx="162" cy="692" rx="3.3" ry="2.4" stroke="none" fill="#000"/>
<ellipse cx="162" cy="703" rx="3.3" ry="2.4" stroke="none" fill="#000"/>
<ellipse cx="162" cy="711" rx="3.3" ry="2.4" stroke="none" fill="#000"/>
<ellipse cx="162" cy="740" rx="3.3" ry="2.4" stroke="none" fill="#000"/>
<ellipse cx="162" cy="749" rx="3.3" ry="2.4" stroke="none" fill="#000"/>
<ellipse cx="162" cy="758" rx="3.3" ry="2.4" stroke="none" fill="#000"/>
<path d="M132,721 L160,721" stroke-width="2.144" fill="none" stroke-linecap="round"/>
<path d="M132,730 L160,730" stroke-width="2.144" fill="none" stroke-linecap="round"/>
<path d="M160,721 L164,725.5 L160,730" stroke-width="2.144" fill="none" stroke-linecap="round"/>
<path d="M164,723.0 L173,715.5 L233,713 L233,733 L173,731.5 Z" stroke-width="3.0080000000000005" fill="none" stroke-linecap="round"/>
<path d="M173,717 L219,716.5 L226,723.0 L219,729.5 L173,730 Z" stroke-width="1.8" fill="#000" stroke-linecap="round"/>
<ellipse cx="183" cy="723" rx="4" ry="1.3" stroke="none" stroke-width="1.8" fill="#fff"/>
<ellipse cx="197" cy="723" rx="4" ry="1.3" stroke="none" stroke-width="1.8" fill="#fff"/>
<ellipse cx="211" cy="723" rx="4" ry="1.3" stroke="none" stroke-width="1.8" fill="#fff"/>
<path d="M172,696 L218,696" stroke-width="1.9280000000000002" fill="none" stroke-linecap="round"/>
<path d="M172,754 L218,754" stroke-width="1.9280000000000002" fill="none" stroke-linecap="round"/>
<path d="M218,687 L218,765" stroke-width="2.5760000000000005" fill="none" stroke-linecap="round"/>
<path d="M220,686 L223,680 L248,679 L250,700 L260,706 L261,738 L251,746 L251,760 L248,763 L230,770 L222,768" stroke-width="3.0080000000000005" fill="none" stroke-linecap="round"/>
<path d="M220,697 L248,708 L249,740 L220,753" stroke-width="2.3600000000000003" fill="none" stroke-linecap="round"/>
<circle cx="755" cy="136" r="112" stroke-width="1.8" fill="none"/>
<circle cx="1078" cy="135" r="112" stroke-width="1.8" fill="none"/>
<path d="M355,84 C369.2,84.3 409.2,84.8 440,86 C470.8,87.2 506,89.4 540,91 C574,92.6 609.3,94.2 644,95.6 C678.7,97 730.7,98.7 748,99.3" stroke-width="3.224" fill="none" stroke-linecap="round"/>
<path d="M355,86 C369.2,87.7 409.2,92.7 440,96 C470.8,99.3 506,102.2 540,106 C574,109.8 616.3,115.3 644,118.6 C671.7,121.9 693.7,124.4 706,126 C718.3,127.6 716,127.7 718,128" stroke-width="3.224" fill="none" stroke-linecap="round"/>
<path d="M356,83 Q351,85 356,87" stroke-width="2.7920000000000003" fill="none" stroke-linecap="round"/>
<path d="M383,86.5 C392.5,87.6 412.2,90.1 440,93 C467.8,95.9 516,100.2 550,104 C584,107.8 618,112.2 644,115.5 C670,118.8 695.7,122.2 706,123.5" stroke-width="1.8" fill="none" stroke-linecap="round"/>
<path d="M383,84.5 L383,88" stroke-width="1.9280000000000002" fill="none" stroke-linecap="round"/>
<path d="M444,87 L444,94" stroke-width="2.144" fill="none" stroke-linecap="round"/>
<path d="M541,92 L541,104" stroke-width="2.144" fill="none" stroke-linecap="round"/>
<path d="M1082,96.5 C1088.3,96.2 1108.7,95.6 1120,95 C1131.3,94.4 1121.2,94.7 1150,93 C1178.8,91.3 1244.5,88 1293,85 C1341.5,82 1410.5,76.2 1441,75 C1471.5,73.8 1470.2,77.5 1476,78" stroke-width="3.224" fill="none" stroke-linecap="round"/>
<path d="M1126,122 C1130,122 1122.2,125.3 1150,122 C1177.8,118.7 1244.5,108.5 1293,102 C1341.5,95.5 1410.5,86.7 1441,83 C1471.5,79.3 1470.2,80.5 1476,80" stroke-width="3.224" fill="none" stroke-linecap="round"/>
<path d="M1475,77 Q1480,79 1475,81" stroke-width="2.7920000000000003" fill="none" stroke-linecap="round"/>
<path d="M1126,118 C1130,117.9 1122.2,120.7 1150,117.5 C1177.8,114.3 1244.5,105.1 1293,99 C1341.5,92.9 1416.3,84 1441,81" stroke-width="1.8" fill="none" stroke-linecap="round"/>
<path d="M1292,86 L1292,100" stroke-width="2.144" fill="none" stroke-linecap="round"/>
<path d="M1385,79 L1385,89" stroke-width="2.144" fill="none" stroke-linecap="round"/>
<ellipse cx="756.5" cy="140.5" rx="38.5" ry="39.5" stroke-width="3.4400000000000004" fill="none"/>
<circle cx="756.5" cy="137" r="25.5" stroke-width="12.08" fill="none"/>
<path d="M787.2,162.6 A37.5,38.5 0 0,1 725.8,162.6" stroke-width="5.0600000000000005" fill="none" stroke-linecap="round"/>
<path d="M723.5,128 A35,35 0 0,1 741.5,106" stroke-width="1.8" fill="none" stroke-linecap="round"/>
<path d="M789.5,128 A35,35 0 0,0 771.5,106" stroke-width="1.8" fill="none" stroke-linecap="round"/>
<circle cx="756.5" cy="137" r="17" stroke-width="1.8" fill="none"/>
<ellipse cx="756.5" cy="137" rx="3" ry="3" stroke="none" fill="#000"/>
<circle cx="721.5" cy="159.5" r="3" stroke-width="2.144" fill="none"/>
<circle cx="791.5" cy="159.5" r="3" stroke-width="2.144" fill="none"/>
<circle cx="716.5" cy="133.5" r="2" stroke-width="1.9280000000000002" fill="none"/>
<circle cx="796.5" cy="133.5" r="2" stroke-width="1.9280000000000002" fill="none"/>
<ellipse cx="1079" cy="138" rx="38.5" ry="39.5" stroke-width="3.4400000000000004" fill="none"/>
<circle cx="1079" cy="134" r="25.5" stroke-width="12.08" fill="none"/>
<path d="M1109.7,160.1 A37.5,38.5 0 0,1 1048.3,160.1" stroke-width="5.0600000000000005" fill="none" stroke-linecap="round"/>
<path d="M1046,125 A35,35 0 0,1 1064,103" stroke-width="1.8" fill="none" stroke-linecap="round"/>
<path d="M1112,125 A35,35 0 0,0 1094,103" stroke-width="1.8" fill="none" stroke-linecap="round"/>
<circle cx="1079" cy="134" r="17" stroke-width="1.8" fill="none"/>
<ellipse cx="1079" cy="134" rx="3" ry="3" stroke="none" fill="#000"/>
<circle cx="1044" cy="157" r="3" stroke-width="2.144" fill="none"/>
<circle cx="1114" cy="157" r="3" stroke-width="2.144" fill="none"/>
<circle cx="1039" cy="131" r="2" stroke-width="1.9280000000000002" fill="none"/>
<circle cx="1119" cy="131" r="2" stroke-width="1.9280000000000002" fill="none"/>
<path d="M733,104 C729.5,104.5 716.5,105 712,107 C707.5,109 706.3,113 706,116 C705.7,119 707.3,123 710,125 C712.7,127 720,127.5 722,128" stroke-width="2.5760000000000005" fill="none" stroke-linecap="round"/>
<path d="M1102,104 C1105.5,104.2 1118.3,103.7 1123,105 C1127.7,106.3 1129.2,109.5 1130,112 C1130.8,114.5 1130.3,118 1128,120 C1125.7,122 1118,123.3 1116,124" stroke-width="2.5760000000000005" fill="none" stroke-linecap="round"/>
<path d="M757.5,9 Q754.5,11 754.6,15 L752.5,86 L748,92 L748,98 L764,98 L764,86 L762.4,49 L759.5,15 Q760,10 757.5,9 Z" stroke-width="3.4400000000000004" fill="#fff" stroke-linecap="round"/>
<path d="M750,90 L752,86 L763.5,86 L763.5,98 L749,98 Z" stroke-width="1.8" fill="#000" stroke-linecap="round"/>
<path d="M1070.5,4 Q1067.5,6 1067.6,10 L1067.5,86 L1066,96 L1083,96 L1081,86 L1076,40 L1073.5,10 Q1073,5 1070.5,4 Z" stroke-width="3.4400000000000004" fill="#fff" stroke-linecap="round"/>
<path d="M1067,88 L1081,88 L1083,96 L1066,96 Z" stroke-width="1.8" fill="#000" stroke-linecap="round"/>
<path d="M764,76 L865.6,94.5" stroke-width="3.4400000000000004" fill="none" stroke-linecap="round"/>
<path d="M764,84 L860,96.5" stroke-width="2.7920000000000003" fill="none" stroke-linecap="round"/>
<path d="M1069.3,74.6 L949,94.5" stroke-width="3.6560000000000006" fill="none" stroke-linecap="round"/>
<path d="M1070,84 L976,98" stroke-width="2.7920000000000003" fill="none" stroke-linecap="round"/>
<path d="M1023,95.2 L1069.3,89.2" stroke-width="3.0080000000000005" fill="none" stroke-linecap="round"/>
<path d="M960,93 L990,97" stroke-width="4.5200000000000005" fill="none" stroke-linecap="round"/>
<path d="M764,99 L865.6,102.6" stroke-width="3.224" fill="none" stroke-linecap="round"/>
<path d="M798,106.7 L865.6,102.6" stroke-width="2.144" fill="none" stroke-linecap="round"/>
<path d="M798,127 L865.6,129.6" stroke-width="3.224" fill="none" stroke-linecap="round"/>
<path d="M796.7,104 L796.7,128" stroke-width="3.0080000000000005" fill="none" stroke-linecap="round"/>
<path d="M867,101 L867,134" stroke-width="3.0080000000000005" fill="none" stroke-linecap="round"/>
<path d="M965.4,102.6 L1041,102" stroke-width="3.224" fill="none" stroke-linecap="round"/>
<path d="M965.4,105.5 L1038,105.5" stroke-width="2.3600000000000003" fill="none" stroke-linecap="round"/>
<path d="M965.4,129.6 L1041,128" stroke-width="3.224" fill="none" stroke-linecap="round"/>
<path d="M966,101 L966,134" stroke-width="3.0080000000000005" fill="none" stroke-linecap="round"/>
<path d="M1038,104 L1038,126" stroke-width="2.7920000000000003" fill="none" stroke-linecap="round"/>
<path d="M885,94 C886.7,90.4 892.1,77.2 895,72.5 C897.9,67.8 898.3,66.9 902.5,65.5 C906.7,64.1 914.6,63.2 920,64 C925.4,64.8 931.2,65.2 935,70 C938.8,74.8 941.2,89.2 942.5,93" stroke-width="4.736000000000001" fill="none" stroke-linecap="round"/>
<path d="M899,70 L936,70" stroke-width="4.5200000000000005" fill="none" stroke-linecap="round"/>
<rect x="901" y="75.5" width="12.5" height="13" rx="0" stroke-width="3.8720000000000003" fill="none"/>
<rect x="917" y="75.5" width="12.5" height="13" rx="0" stroke-width="3.8720000000000003" fill="none"/>
<path d="M886,93.5 L944,93.5" stroke-width="6.680000000000001" fill="none" stroke-linecap="round"/>
<path d="M862,96 L888,95" stroke-width="5.6000000000000005" fill="none" stroke-linecap="round"/>
<path d="M942,96 L968,98" stroke-width="5.6000000000000005" fill="none" stroke-linecap="round"/>
<path d="M925.5,64 L925,22 Q926,19 928,20 L932,64 Z" stroke-width="2.5760000000000005" fill="#fff" stroke-linecap="round"/>
<path d="M944,96 C954.2,97.8 946.9,101.8 948,106.7 C949.1,111.6 950.6,119.3 950.6,125.6 C950.6,131.9 950,138.7 948,144.5 C946,150.3 942.2,156.4 938.4,160.7 C934.6,164.9 929.5,168.4 925,170 C920.5,171.6 916,170.9 911.5,170 C907,169.1 902.1,167.6 898,164.7 C893.9,161.8 889.7,157.8 887,152.6 C884.3,147.4 882.7,141.1 882,133.7 C881.3,126.3 882.2,114.3 883,108 C883.8,101.7 876.8,98 887,96 C897.2,94 933.8,94.2 944,96 Z" stroke-width="3.6560000000000006" fill="none" stroke-linecap="round"/>
<ellipse cx="916" cy="132" rx="28.5" ry="31" stroke-width="1.9280000000000002" fill="none"/>
<circle cx="915.6" cy="133.1" r="14.4" stroke-width="3.0080000000000005" fill="none"/>
<path d="M931.7,94.5 L933,112" stroke-width="1.9280000000000002" fill="none" stroke-linecap="round"/>
<path d="M883,134 L949,134 C949,150 940,163 925,170 L911,170 C896,165 885,152 883,134 Z M901.5,134 A14.4,14.4 0 0,0 930.5,134 Z" stroke-width="1.8" fill="#000" stroke-linecap="round"/>
<path d="M888,140 L893,153" stroke="#fff" stroke-width="1.9280000000000002" fill="none" stroke-linecap="round"/>
<path d="M896,139 L901,151" stroke="#fff" stroke-width="1.9280000000000002" fill="none" stroke-linecap="round"/>
<path d="M944,140 L939,153" stroke="#fff" stroke-width="1.9280000000000002" fill="none" stroke-linecap="round"/>
<path d="M936,139 L931,151" stroke="#fff" stroke-width="1.9280000000000002" fill="none" stroke-linecap="round"/>
<path d="M897,150 L915.5,158 L934,150" stroke="#fff" stroke-width="2.036" fill="none" stroke-linecap="round"/>
<path d="M897,156 L915.5,164 L934,156" stroke="#fff" stroke-width="2.036" fill="none" stroke-linecap="round"/>
<rect x="871" y="110.7" width="9" height="16.3" rx="4" stroke-width="2.7920000000000003" fill="none"/>
<path d="M871,118.5 L880,118.5" stroke-width="1.9280000000000002" fill="none" stroke-linecap="round"/>
<rect x="952" y="108" width="9" height="17" rx="4" stroke-width="2.7920000000000003" fill="none"/>
<path d="M952,116.5 L961,116.5" stroke-width="1.9280000000000002" fill="none" stroke-linecap="round"/>
<path d="M865,101 L887,101" stroke-width="3.224" fill="none" stroke-linecap="round"/>
<path d="M944,98 L966,101" stroke-width="3.224" fill="none" stroke-linecap="round"/>
<path d="M867,130 L883,130" stroke-width="3.0080000000000005" fill="none" stroke-linecap="round"/>
<path d="M950,130 L966,130" stroke-width="3.0080000000000005" fill="none" stroke-linecap="round"/>
<path d="M928,21 L1068,15" stroke-width="1.8" fill="none" stroke-linecap="round"/>
<rect x="743.4" y="226" width="26" height="66" rx="13" stroke-width="2.5760000000000005" fill="none"/>
<rect x="1066.5" y="222.5" width="27" height="67.5" rx="13" stroke-width="2.5760000000000005" fill="none"/>
<path d="M695,288.3 L1164,288.3" stroke-width="1.8" fill="none" stroke-linecap="round"/>
<path d="M740,786 L1350,771" stroke-width="1.8" fill="none" stroke-linecap="round"/>
<path d="M674,864 L772,784" stroke-width="1.8" fill="none" stroke-linecap="round"/>
<path d="M732,790 L732,828 L735.5,828 L735.5,790 Z" stroke-width="1.8" fill="#000" stroke-linecap="round"/>
<circle cx="733" cy="787" r="3.5" stroke-width="2.9000000000000004" fill="none"/>
<path d="M719,784 L741,784" stroke-width="2.144" fill="none" stroke-linecap="round"/>
<path d="M619.4,897.8 C620.2,896.2 621.9,891.1 624,888.4 C626.1,885.7 627.3,884.4 632,881.7 C636.7,879 645.3,875.2 652,872.3 C658.7,869.4 665.6,866.8 672.3,864.3 C679,861.8 686.4,859 692,857.6 C697.6,856.2 701.5,855.6 706,855.6 C710.5,855.6 715.7,856.6 719,857.6 C722.3,858.6 724.8,860.9 726,861.6" stroke-width="3.4400000000000004" fill="none" stroke-linecap="round"/>
<path d="M619.4,897.8 C620.4,899.3 622.2,903.9 625.4,907 C628.6,910.1 632.1,913.6 638.8,916.5 C645.5,919.4 656.7,922.5 665.6,924.5 C674.5,926.5 683.5,927.2 692.4,928.6 C701.3,930 709.7,931.4 719,932.6 C728.3,933.8 736.8,935.4 748,936 C759.2,936.6 779.7,936 786,936" stroke-width="3.6560000000000006" fill="none" stroke-linecap="round"/>
<path d="M632,886 L632,911" stroke-width="3.9800000000000004" fill="none" stroke-linecap="round"/>
<path d="M632,897.8 L668,897.8" stroke-width="3.9800000000000004" fill="none" stroke-linecap="round"/>
<path d="M632,902 L716.5,920.5" stroke-width="3.4400000000000004" fill="none" stroke-linecap="round"/>
<path d="M640,907 L716,926" stroke-width="1.9280000000000002" fill="none" stroke-linecap="round"/>
<path d="M653.5,898 L653.5,915" stroke-width="3.0080000000000005" fill="none" stroke-linecap="round"/>
<path d="M673.6,898 L673.6,920" stroke-width="3.0080000000000005" fill="none" stroke-linecap="round"/>
<path d="M677.6,864 L677.6,886" stroke-width="2.7920000000000003" fill="none" stroke-linecap="round"/>
<path d="M668,898 C670,896.5 674.7,891.8 680,889 C685.3,886.2 694,882.9 700,881 C706,879.1 713.3,878.2 716,877.7" stroke-width="3.0080000000000005" fill="none" stroke-linecap="round"/>
<path d="M668,898 C670,899.3 674.7,903.2 680,906 C685.3,908.8 693.9,912.6 700,915 C706.1,917.4 713.8,919.6 716.5,920.5" stroke-width="3.0080000000000005" fill="none" stroke-linecap="round"/>
<path d="M696.4,882 L696.4,914" stroke-width="2.144" fill="none" stroke-linecap="round"/>
<path d="M713.8,878 L713.8,920" stroke-width="2.144" fill="none" stroke-linecap="round"/>
<path d="M719,869.6 Q717,875 717,900 Q717,920 719,924.5" stroke-width="3.4400000000000004" fill="none" stroke-linecap="round"/>
<path d="M719,869.6 Q721,863 728,862 L782,861" stroke-width="3.4400000000000004" fill="none" stroke-linecap="round"/>
<path d="M719,924.5 Q722,933 736,934 L786,936" stroke-width="3.4400000000000004" fill="none" stroke-linecap="round"/>
<path d="M722,874 L727,869.6 L742.6,867.6 L742.6,892 L722,892 Z" stroke-width="2.7920000000000003" fill="none" stroke-linecap="round"/>
<path d="M747.3,862 L747.3,936" stroke-width="2.5760000000000005" fill="none" stroke-linecap="round"/>
<path d="M779.4,862 L779.4,936" stroke-width="2.5760000000000005" fill="none" stroke-linecap="round"/>
<ellipse cx="752.6" cy="871" rx="2.7" ry="2.2" stroke="none" fill="#000"/>
<ellipse cx="752.6" cy="880.4" rx="2.7" ry="2.2" stroke="none" fill="#000"/>
<ellipse cx="752.6" cy="889.7" rx="2.7" ry="2.2" stroke="none" fill="#000"/>
<ellipse cx="752.6" cy="905.8" rx="2.7" ry="2.2" stroke="none" fill="#000"/>
<ellipse cx="752.6" cy="915.2" rx="2.7" ry="2.2" stroke="none" fill="#000"/>
<ellipse cx="752.6" cy="924.5" rx="2.7" ry="2.2" stroke="none" fill="#000"/>
<ellipse cx="772.7" cy="871" rx="2.7" ry="2.2" stroke="none" fill="#000"/>
<ellipse cx="772.7" cy="880.4" rx="2.7" ry="2.2" stroke="none" fill="#000"/>
<ellipse cx="772.7" cy="889.7" rx="2.7" ry="2.2" stroke="none" fill="#000"/>
<ellipse cx="772.7" cy="905.8" rx="2.7" ry="2.2" stroke="none" fill="#000"/>
<ellipse cx="772.7" cy="915.2" rx="2.7" ry="2.2" stroke="none" fill="#000"/>
<ellipse cx="772.7" cy="924.5" rx="2.7" ry="2.2" stroke="none" fill="#000"/>
<path d="M782,862 L832,864" stroke-width="2.9000000000000004" fill="none" stroke-linecap="round"/>
<path d="M783,862 L783,936" stroke-width="2.7920000000000003" fill="none" stroke-linecap="round"/>
<path d="M832,864 L832,930" stroke-width="3.0080000000000005" fill="none" stroke-linecap="round"/>
<path d="M786,926 L785,936 Q786,943 795,944 L824,944 Q830,942 830,934 L833,930" stroke-width="3.0080000000000005" fill="none" stroke-linecap="round"/>
<rect x="819" y="932" width="12" height="11" rx="3" stroke-width="2.5760000000000005" fill="none"/>
<path d="M788,913 L830,913" stroke-width="2.7920000000000003" fill="none" stroke-linecap="round"/>
<path d="M788,905 L796,912 L788,919" stroke-width="2.5760000000000005" fill="none" stroke-linecap="round"/>
<path d="M810,906 L810,913" stroke-width="2.5760000000000005" fill="none" stroke-linecap="round"/>
<path d="M829,906 L829,913" stroke-width="2.5760000000000005" fill="none" stroke-linecap="round"/>
<path d="M706.5,852.8 L731,828" stroke-width="4.5200000000000005" fill="none" stroke-linecap="round"/>
<path d="M721.6,855 L732.4,841" stroke-width="2.9000000000000004" fill="none" stroke-linecap="round"/>
<path d="M729,828 L810,828" stroke-width="4.088" fill="none" stroke-linecap="round"/>
<path d="M810,828 C812.3,828.5 819,829.6 824,831 C829,832.4 834,835.1 840,836.6 C846,838.1 856.7,839.4 860,840" stroke-width="3.4400000000000004" fill="none" stroke-linecap="round"/>
<path d="M725,837 L808,837" stroke-width="5.6000000000000005" fill="none" stroke-linecap="round"/>
<path d="M719,859 L830,859" stroke-width="4.5200000000000005" fill="none" stroke-linecap="round"/>
<path d="M735,829 L735,860" stroke-width="5.6000000000000005" fill="none" stroke-linecap="round"/>
<path d="M755.6,838 L755.6,859" stroke-width="2.144" fill="none" stroke-linecap="round"/>
<path d="M773.4,830 L773.4,858" stroke-width="6.680000000000001" fill="none" stroke-linecap="round"/>
<path d="M806,830 L806,858" stroke-width="6.680000000000001" fill="none" stroke-linecap="round"/>
<rect x="784" y="846" width="20" height="13" rx="4" stroke-width="3.4400000000000004" fill="none"/>
<path d="M812,841 L826,841" stroke-width="2.5760000000000005" fill="none" stroke-linecap="round"/>
<path d="M812,850 L826,852" stroke-width="2.5760000000000005" fill="none" stroke-linecap="round"/>
<path d="M826,832 L826,860" stroke-width="3.4400000000000004" fill="none" stroke-linecap="round"/>
<path d="M838,836 L878,836" stroke-width="1.9280000000000002" fill="none" stroke-linecap="round"/>
<path d="M825,841 L840,847.4" stroke-width="2.9000000000000004" fill="none" stroke-linecap="round"/>
<path d="M780,870 L830,870" stroke-width="2.3600000000000003" fill="none" stroke-linecap="round"/>
<path d="M843,840.5 L1050,841" stroke-width="3.4400000000000004" fill="none" stroke-linecap="round"/>
<path d="M860,866 L956,866" stroke-width="2.144" fill="none" stroke-linecap="round"/>
<path d="M990,842 L990,866" stroke-width="2.144" fill="none" stroke-linecap="round"/>
<path d="M1032,842 L1032,880" stroke-width="2.144" fill="none" stroke-linecap="round"/>
<path d="M1030,841 L1104,841" stroke-width="3.9800000000000004" fill="none" stroke-linecap="round"/>
<path d="M1104,841 C1107.9,841.5 1120.7,842.4 1127.5,843.8 C1134.3,845.2 1140,848 1144.7,849.5 C1149.5,851 1154.1,852.4 1156,853" stroke-width="3.6560000000000006" fill="none" stroke-linecap="round"/>
<path d="M1030,870 L1200,870" stroke-width="3.224" fill="none" stroke-linecap="round"/>
<path d="M1031,842 L1031,899" stroke-width="2.5760000000000005" fill="none" stroke-linecap="round"/>
<path d="M1062,842 L1062,869" stroke-width="5.0600000000000005" fill="none" stroke-linecap="round"/>
<path d="M1080.5,852 L1080.5,866" stroke-width="2.144" fill="none" stroke-linecap="round"/>
<path d="M1099,842 L1099,869" stroke-width="5.0600000000000005" fill="none" stroke-linecap="round"/>
<path d="M1050,849.5 L1145,849.5" stroke-width="5.0600000000000005" fill="none" stroke-linecap="round"/>
<path d="M1062,866 L1101,866" stroke-width="3.9800000000000004" fill="none" stroke-linecap="round"/>
<path d="M1103,852 C1105.5,850.3 1114.3,851.3 1118,852 C1121.7,852.7 1124.3,854.3 1125,856 C1125.7,857.7 1123.8,860.5 1122,862 C1120.2,863.5 1117.2,865 1114,865 C1110.8,865 1104.8,864.2 1103,862 C1101.2,859.8 1100.5,853.7 1103,852 Z" stroke-width="3.4400000000000004" fill="none" stroke-linecap="round"/>
<path d="M1127.5,846 L1156,854 L1117,864.4 Z" stroke-width="3.4400000000000004" fill="none" stroke-linecap="round"/>
<rect x="1044" y="855" width="6.6" height="6" rx="1.5" stroke-width="2.5760000000000005" fill="none"/>
<path d="M1049.5,843.8 L1060,866.7" stroke-width="2.9000000000000004" fill="none" stroke-linecap="round"/>
<path d="M835,875 C835.8,873.5 838.2,868.3 840,866 C841.8,863.7 843,863.2 846,861 C849,858.8 853.9,855.2 858,853 C862.1,850.8 864.3,849.4 870.5,848 C876.7,846.6 885.6,845 895,844.6 C904.4,844.2 919,844.8 927,845.4 C935,846 934.8,845.7 943,848 C951.2,850.3 965.2,855 976,859 C986.8,863 997.2,868.5 1008,872 C1018.8,875.5 1032.3,878.1 1040.5,880 C1048.7,881.9 1054.2,882.8 1057,883.4" stroke-width="3.6560000000000006" fill="none" stroke-linecap="round"/>
<path d="M873.7,852 C879.1,852.1 895.8,852.3 906,852.7 C916.2,853.1 926.1,851.9 935,854.3 C943.9,856.7 952.8,862.1 959.6,867 C966.4,871.9 973,880.7 975.7,883.4" stroke-width="3.4400000000000004" fill="none" stroke-linecap="round"/>
<path d="M873.7,865 L951.5,868" stroke-width="2.5760000000000005" fill="none" stroke-linecap="round"/>
<path d="M907,852.7 L907,886.7" stroke-width="2.7920000000000003" fill="none" stroke-linecap="round"/>
<path d="M935,854.3 C940,856.2 955.5,862 965,866 C974.5,870 987.5,876.5 992,878.6" stroke-width="3.0080000000000005" fill="none" stroke-linecap="round"/>
<path d="M971,872 L1016,878.6" stroke-width="2.5760000000000005" fill="none" stroke-linecap="round"/>
<path d="M838,875 L867,852.7" stroke-width="2.7920000000000003" fill="none" stroke-linecap="round"/>
<path d="M854,882 L877,851" stroke-width="2.7920000000000003" fill="none" stroke-linecap="round"/>
<path d="M835,887 L1057,886" stroke-width="4.088" fill="none" stroke-linecap="round"/>
<path d="M835,875 Q833,882 837,887" stroke-width="3.0080000000000005" fill="none" stroke-linecap="round"/>
<path d="M1057,883.4 C1058.2,885.3 1062.2,890.6 1064,895 C1065.8,899.4 1068,906.2 1068,910 C1068,913.8 1068.7,915.3 1064,918 C1059.3,920.7 1044,924.7 1040,926" stroke-width="3.224" fill="none" stroke-linecap="round"/>
<path d="M840,893 L1000,893" stroke-width="2.3600000000000003" fill="none" stroke-linecap="round"/>
<path d="M840,889 L840,930" stroke-width="2.3600000000000003" fill="none" stroke-linecap="round"/>
<path d="M866,894 L866,922" stroke-width="3.224" fill="none" stroke-linecap="round"/>
<path d="M868,921 L888,921" stroke-width="3.9800000000000004" fill="none" stroke-linecap="round"/>
<path d="M990,892 L996,932" stroke-width="2.5760000000000005" fill="none" stroke-linecap="round"/>
<path d="M1032,888 L1032,928" stroke-width="2.3600000000000003" fill="none" stroke-linecap="round"/>
<rect x="961" y="909" width="16" height="13" rx="3" stroke-width="2.7920000000000003" fill="none"/>
<path d="M833,928 L1076,928" stroke-width="4.088" fill="none" stroke-linecap="round"/>
<path d="M833,935 L1000,933" stroke-width="3.4400000000000004" fill="none" stroke-linecap="round"/>
<rect x="1068" y="916" width="8" height="4" rx="0" stroke-width="2.144" fill="none"/>
<path d="M1068,909 L1160,909" stroke-width="3.4400000000000004" fill="none" stroke-linecap="round"/>
<path d="M1030,929.5 L1222,929.5" stroke-width="3.4400000000000004" fill="none" stroke-linecap="round"/>
<path d="M1166,927 L1214,927" stroke-width="5.0600000000000005" fill="none" stroke-linecap="round"/>
<path d="M1157.5,871 L1157.5,908" stroke-width="2.3600000000000003" fill="none" stroke-linecap="round"/>
<rect x="1087" y="896" width="13" height="6" rx="2" stroke-width="2.3600000000000003" fill="none"/>
<path d="M1100,920 L1128,920 L1128,925 L1100,925 Z" stroke-width="1.82" fill="#000" stroke-linecap="round"/>
<path d="M1156,854 L1190,854" stroke-width="5.0600000000000005" fill="none" stroke-linecap="round"/>
<path d="M1190,856 L1296,858" stroke-width="2.3600000000000003" fill="none" stroke-linecap="round"/>
<path d="M1200,871 L1290,871" stroke-width="2.3600000000000003" fill="none" stroke-linecap="round"/>
<path d="M1289,872 L1289,914" stroke-width="2.3600000000000003" fill="none" stroke-linecap="round"/>
<circle cx="1297" cy="883" r="3.5" stroke-width="2.144" fill="none"/>
<circle cx="1229" cy="896" r="7" stroke-width="2.5760000000000005" fill="none"/>
<circle cx="1250" cy="896" r="7" stroke-width="2.5760000000000005" fill="none"/>
<circle cx="1271" cy="896" r="7" stroke-width="2.5760000000000005" fill="none"/>
<path d="M1160,908 L1288,908" stroke-width="3.0080000000000005" fill="none" stroke-linecap="round"/>
<path d="M1160,924 L1216,927" stroke-width="4.5200000000000005" fill="none" stroke-linecap="round"/>
<path d="M1222,912 C1223.3,911.7 1222.7,910.3 1230,910 C1237.3,909.7 1259,909.7 1266,910 C1273,910.3 1271,911.7 1272,912" stroke-width="2.7920000000000003" fill="none" stroke-linecap="round"/>
<path d="M1222,912 Q1220,920 1224,926 L1250,926 Q1262,922 1272,918" stroke-width="2.5760000000000005" fill="none" stroke-linecap="round"/>
<path d="M1240,915 L1262,914" stroke-width="3.4400000000000004" fill="none" stroke-linecap="round"/>
<path d="M1250,926 L1310,919" stroke-width="2.3600000000000003" fill="none" stroke-linecap="round"/>
<path d="M1288,914 L1386,898" stroke-width="2.7920000000000003" fill="none" stroke-linecap="round"/>
<path d="M1320,910 L1382,900" stroke-width="4.5200000000000005" fill="none" stroke-linecap="round"/>
<path d="M1386,890 L1386,899" stroke-width="2.3600000000000003" fill="none" stroke-linecap="round"/>
<path d="M1220,867 L1326,842" stroke-width="2.144" fill="none" stroke-linecap="round"/>
<path d="M1296,864 C1296.7,865 1294,867.8 1300,870 C1306,872.2 1326.7,875.8 1332,877" stroke-width="2.7920000000000003" fill="none" stroke-linecap="round"/>
<path d="M1296,864 C1297.3,863.3 1298.7,863 1304,860 C1309.3,857 1324,848.3 1328,846" stroke-width="2.5760000000000005" fill="none" stroke-linecap="round"/>
<path d="M1418.5,813 C1418,811.9 1417.6,809.6 1415.8,806.3 C1414,802.9 1410.9,797.8 1407.8,792.9 C1404.7,788 1400.8,781.7 1397,776.8 C1393.2,771.9 1389,766.4 1385,763.4 C1381,760.4 1377.2,758.9 1373,758.7 C1368.8,758.5 1363.8,759.6 1360,762 C1356.2,764.4 1354.1,766.3 1350.2,772.8 C1346.3,779.3 1340.4,791.4 1336.8,801 C1333.2,810.6 1330.1,821.5 1328.8,830.4 C1327.5,839.3 1327.9,847.4 1328.8,854.5 C1329.7,861.6 1331.3,867.9 1334,873.3 C1336.7,878.7 1340.5,883.4 1344.8,886.7 C1349.1,890.1 1354.7,892.2 1359.6,893.4 C1364.5,894.6 1370.1,894.2 1374.3,894 C1378.5,893.8 1382.3,892.8 1385,892 C1387.7,891.2 1387.3,891.1 1390.4,889.3 C1393.5,887.5 1399.3,884.9 1403.8,881.3 C1408.3,877.7 1415,870.1 1417.2,867.9" stroke-width="3.4400000000000004" fill="none" stroke-linecap="round"/>
<path d="M1418.5,813 L1424,815 L1425.2,830 L1425.2,857.2 L1417.2,867.9" stroke-width="3.4400000000000004" fill="none" stroke-linecap="round"/>
<path d="M1415,816 L1416,858" stroke-width="2.7920000000000003" fill="none" stroke-linecap="round"/>
<path d="M1352.9,775.5 L1352.9,888" stroke-width="2.3600000000000003" fill="none" stroke-linecap="round"/>
<path d="M1351.5,774.8 L1379.7,774.8" stroke-width="3.4400000000000004" fill="none" stroke-linecap="round"/>
<path d="M1378.3,770 L1378.3,833 L1387.7,838.4 L1387.7,842.4 L1378.3,846.5 L1379.7,884" stroke-width="4.304" fill="none" stroke-linecap="round"/>
<path d="M1378.3,770 L1386.4,767.4" stroke-width="3.4400000000000004" fill="none" stroke-linecap="round"/>
<path d="M1380.5,786.2 L1401.8,786.2" stroke-width="2.3600000000000003" fill="none" stroke-linecap="round"/>
<path d="M1380.5,796.2 L1408.3,796.2" stroke-width="2.3600000000000003" fill="none" stroke-linecap="round"/>
<path d="M1380.5,806.3 L1414.3,806.3" stroke-width="2.3600000000000003" fill="none" stroke-linecap="round"/>
<path d="M1380.5,815.6 L1413.5,815.6" stroke-width="2.3600000000000003" fill="none" stroke-linecap="round"/>
<path d="M1380.5,827.7 L1413.8,827.7" stroke-width="2.3600000000000003" fill="none" stroke-linecap="round"/>
<path d="M1389,838.4 L1414,838.4" stroke-width="2.3600000000000003" fill="none" stroke-linecap="round"/>
<path d="M1380.5,849.1 L1414.3,849.1" stroke-width="2.3600000000000003" fill="none" stroke-linecap="round"/>
<path d="M1380.5,859.9 L1413.5,859.9" stroke-width="2.3600000000000003" fill="none" stroke-linecap="round"/>
<path d="M1380.5,870.6 L1407.9,870.6" stroke-width="2.3600000000000003" fill="none" stroke-linecap="round"/>
<path d="M1380.5,880.6 L1402.7,880.6" stroke-width="2.3600000000000003" fill="none" stroke-linecap="round"/>
<ellipse cx="1348.2" cy="841.1" rx="2.8" ry="2.5" stroke="none" fill="#000"/>
<path d="M1348,841 L1353,841" stroke-width="2.3600000000000003" fill="none" stroke-linecap="round"/>
<path d="M1417.2,867.9 C1418.5,866.1 1422.1,857.7 1425.2,857.2 C1428.3,856.8 1433.1,861.9 1436,865.2 C1438.9,868.6 1441.3,874.2 1442.6,877.3 C1443.9,880.4 1444.7,882.2 1444,884 C1443.3,885.8 1442.6,886.7 1438.6,888 C1434.6,889.3 1428.8,890.3 1420,892 C1411.2,893.7 1391.7,897 1386,898" stroke-width="3.4400000000000004" fill="none" stroke-linecap="round"/>
<path d="M1432,868 L1432,886" stroke-width="2.3600000000000003" fill="none" stroke-linecap="round"/>
<ellipse cx="1438.6" cy="881.3" rx="3" ry="3" stroke="none" fill="#000"/>
<circle cx="1350" cy="927" r="13" stroke-width="2.3600000000000003" fill="none"/>
<circle cx="840" cy="1018" r="32" stroke-width="2.3600000000000003" fill="none"/>
<path d="M727,1074 L1428,922" stroke-width="1.82" fill="none" stroke-linecap="round"/>
<path d="M350,950.5 L356,950.5" stroke-width="3.4400000000000004" fill="none" stroke-linecap="round"/>
<path d="M340.5,1020.5 L346,1020.5" stroke-width="3.4400000000000004" fill="none" stroke-linecap="round"/>
<path d="M770,627 L782,627 L783,630 L770,633" stroke-width="2.7920000000000003" fill="none" stroke-linecap="round"/>
</svg>
<div class="t" style="left:1113px;top:524px;font-size:33px;line-height:40px;letter-spacing:1.3px;">Ty-2C</div>
</body></html>
